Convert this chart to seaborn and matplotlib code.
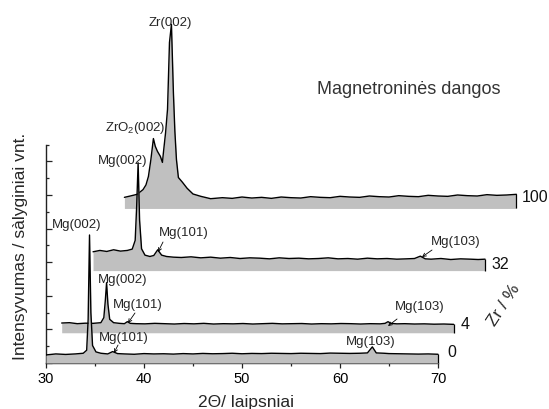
import numpy as np
import pandas as pd
import matplotlib
matplotlib.use('Agg')
import matplotlib.pyplot as plt
import seaborn as sns

sns.set_style('ticks')
plt.rcParams['font.family'] = ['Liberation Sans', 'DejaVu Sans']
plt.rcParams['mathtext.fontset'] = 'custom'
plt.rcParams['mathtext.rm'] = 'Liberation Sans'
plt.rcParams['mathtext.it'] = 'Liberation Sans:italic'

# ---------------- data ----------------
zr_labels = ['0', '4', '32', '100']
x_shift = [0.0, 1.6, 4.8, 8.0]        # pseudo-3D shift, degrees
y_shift = [0, 900, 2750, 4600]        # pseudo-3D shift, counts

theta_0 = [30, 31, 32, 33, 33.8, 34.15, 34.3, 34.44, 34.58, 34.75,
           35.1, 35.6, 36.3, 36.8, 37.3,
           38, 39, 40, 41, 42, 43, 44, 45, 46, 47, 48, 49, 50, 51, 52,
           53, 54, 55, 56, 57, 58, 59, 60, 61, 62,
           62.8, 63.3, 63.7, 64.5, 65, 66, 67, 68, 69, 70]
int_0 = [240, 270, 255, 270, 290, 380, 1300, 3810, 1500, 520,
         330, 290, 270, 340, 280,
         270, 260, 280, 270, 275, 265, 280, 270, 285, 275, 280, 290, 275, 285, 280,
         290, 285, 280, 290, 285, 280, 295, 290, 285, 290,
         300, 480, 300, 290, 280, 275, 270, 265, 270, 260]

theta_4 = [30, 30.8, 31.6, 32.4, 33.2, 34.0, 34.3, 34.45, 34.58, 34.72,
           34.9, 35.3, 35.9, 36.4, 36.7, 37.0, 37.6,
           38.5, 39.5, 40.5, 41.5, 42.5, 43.5, 44.5, 45.5, 46.5, 47.5, 48.5, 49.5,
           50.5, 51.5, 52.5, 53.5, 54.5, 55.5, 56.5, 57.5, 58.5, 59.5, 60.5, 61.5,
           62.5, 63.0, 63.3, 63.6, 64.2, 65, 66, 67, 68, 69, 70]
int_4 = [290, 300, 270, 285, 280, 300, 450, 950, 1490, 850,
         400, 300, 280, 270, 330, 280, 270,
         265, 280, 270, 260, 275, 265, 280, 260, 270, 265, 275, 260,
         270, 280, 265, 270, 275, 260, 270, 265, 275, 270, 260, 270,
         265, 280, 330, 280, 265, 270, 260, 265, 255, 260, 250]

theta_32 = [30, 30.7, 31.4, 32.1, 32.8, 33.5, 34.0, 34.3, 34.45, 34.6,
            34.75, 34.95, 35.3, 35.8, 36.2, 36.6, 37.0, 37.5, 38.2, 39,
            40, 41, 42, 43, 44, 45, 46, 47, 48, 49, 50, 51, 52, 53, 54, 55,
            56, 57, 58, 59, 60, 61, 62,
            62.8, 63.4, 63.9, 64.5, 65.5, 66.5, 67.5, 68.5, 69.3, 70]
int_32 = [560, 600, 570, 620, 580, 600, 640, 900, 1900, 3210,
          1500, 650, 460, 420, 450, 620, 460, 420, 400, 390,
          410, 380, 400, 370, 390, 360, 380, 370, 350, 380, 360, 370, 350, 360, 380, 350,
          360, 340, 370, 350, 360, 340, 350,
          360, 430, 350, 340, 360, 330, 350, 340, 330, 340]

theta_100 = [30, 30.6, 31.3, 31.9, 32.2, 32.45, 32.7, 32.96, 33.15, 33.37,
             33.67, 33.88, 33.98, 34.2, 34.4, 34.6, 34.8, 35.0, 35.15, 35.31,
             35.51, 35.92, 36.4, 37.0, 37.8, 38.8,
             40, 41, 42, 43, 44, 45, 46, 47, 48, 49, 50, 51, 52, 53, 54, 55,
             56, 57, 58, 59, 60, 61, 62, 63, 64, 65, 66, 67, 68, 69, 70]
int_100 = [330, 370, 420, 560, 700, 950, 1450, 2080, 1850, 1700,
           1550, 1370, 1660, 2250, 2950, 4940, 5480, 3450, 2300, 1460,
           920, 780, 600, 430, 360, 290,
           320, 300, 340, 310, 330, 300, 340, 320, 310, 350, 330, 320, 360, 340, 330, 370,
           350, 340, 380, 360, 350, 390, 370, 360, 400, 380, 370, 410, 390, 400, 420]

thetas = [theta_0, theta_4, theta_32, theta_100]
intens = [int_0, int_4, int_32, int_100]

peak_labels = [
    # text, x, y
    ('Zr(002)', 42.65, 10119),
    ('ZrO$_\\mathregular{2}$(002)', 39.08, 6994),
    ('Mg(002)', 37.86, 6012),
    ('Mg(002)', 33.16, 4107),
    ('Mg(002)', 37.86, 2470),
    ('Mg(101)', 39.39, 1726),
    ('Mg(101)', 37.96, 744),
    ('Mg(101)', 44.08, 3869),
    ('Mg(103)', 71.84, 3601),
    ('Mg(103)', 68.16, 1667),
    ('Mg(103)', 63.16, 625),
]
arrows = [  # (from x, from y, to x, to y)
    (39.08, 1488, 38.37, 1190),
    (37.35, 536, 36.94, 298),
    (41.94, 3601, 41.43, 3304),
    (69.39, 3363, 68.37, 3155),
    (65.82, 1310, 64.90, 1101),
]
series_label_pos = [(70.92, 327), (72.35, 1131), (75.41, 2946), (78.57, 4940)]

# ---------------- figure ----------------
fig = plt.figure(figsize=(5.49, 4.09), dpi=100)
ax = fig.add_axes([46 / 549, 46 / 409, 503 / 549, 363 / 409])

fill_col = '#c0c0c0'
for z, i in enumerate([3, 2, 1, 0]):
    df = pd.DataFrame({'x': np.array(thetas[i], float) + x_shift[i],
                       'y': np.array(intens[i], float) + y_shift[i]})
    ax.fill_between(df['x'], y_shift[i], df['y'], color=fill_col, lw=0,
                    zorder=2 + 3 * z)
    sns.lineplot(data=df, x='x', y='y', ax=ax, color='black', lw=1.0,
                 estimator=None, sort=False, zorder=3 + 3 * z)
    ax.vlines(df['x'].iloc[-1], y_shift[i], df['y'].iloc[-1], color='black',
              lw=0.9, zorder=3 + 3 * z)
    lx, ly = series_label_pos[i]
    ax.text(lx, ly, zr_labels[i], ha='left', va='center', fontsize=11.5,
            color='#111111')

for txt, x, y in peak_labels:
    ax.text(x, y, txt, ha='center', va='center', fontsize=9.5, zorder=30)
for x1, y1, x2, y2 in arrows:
    ax.annotate('', xy=(x2, y2), xytext=(x1, y1),
                arrowprops=dict(arrowstyle='->', lw=0.6, color='black',
                                shrinkA=0, shrinkB=0, mutation_scale=6),
                zorder=30)

ax.text(67.04, 8125, 'Magnetroninės dangos', ha='center', va='center',
        fontsize=13, color='#333333')
ax.text(76.73, 1726, 'Zr / %', ha='center', va='center', fontsize=12.5,
        rotation=57, rotation_mode='anchor')

ax.set_xlim(30, 30 + 503 / 9.8)
ax.set_ylim(0, 363 / 0.0336)
for s in ['top', 'right']:
    ax.spines[s].set_visible(False)
ax.spines['bottom'].set_bounds(30, 70)
ax.spines['left'].set_bounds(0, 6500)
for s in ['bottom', 'left']:
    ax.spines[s].set_linewidth(1.0)
    ax.spines[s].set_color('#222222')

ax.set_xticks([30, 40, 50, 60, 70])
ax.set_xticks([35, 45, 55, 65], minor=True)
ax.set_yticks([0, 1000, 2000, 3000, 4000, 5000, 6000])
ax.set_yticks([500, 1500, 2500, 3500, 4500, 5500, 6500], minor=True)
ax.set_yticklabels([])
ax.tick_params(axis='x', which='major', direction='out', length=3.5, width=0.9,
               labelsize=10.5, pad=3, colors='#222222')
ax.tick_params(axis='x', which='minor', direction='out', length=2.5, width=0.9)
ax.tick_params(axis='y', which='major', direction='in', length=4, width=0.9)
ax.tick_params(axis='y', which='minor', direction='in', length=2.2, width=0.9)
ax.tick_params(axis='x', labelcolor='black')

ax.set_xlabel('2Θ/ laipsniai', fontsize=12.5)
ax.xaxis.set_label_coords((246 - 46) / 503, -(402 - 363) / 363)
ax.xaxis.label.set_va('center')
ax.set_ylabel('Intensyvumas / sàlyginiai vnt.', fontsize=12.5)
ax.yaxis.set_label_coords((21 - 46) / 503, (363 - 246) / 363)
ax.yaxis.label.set_va('center')

fig.savefig('out.png', dpi=100)
